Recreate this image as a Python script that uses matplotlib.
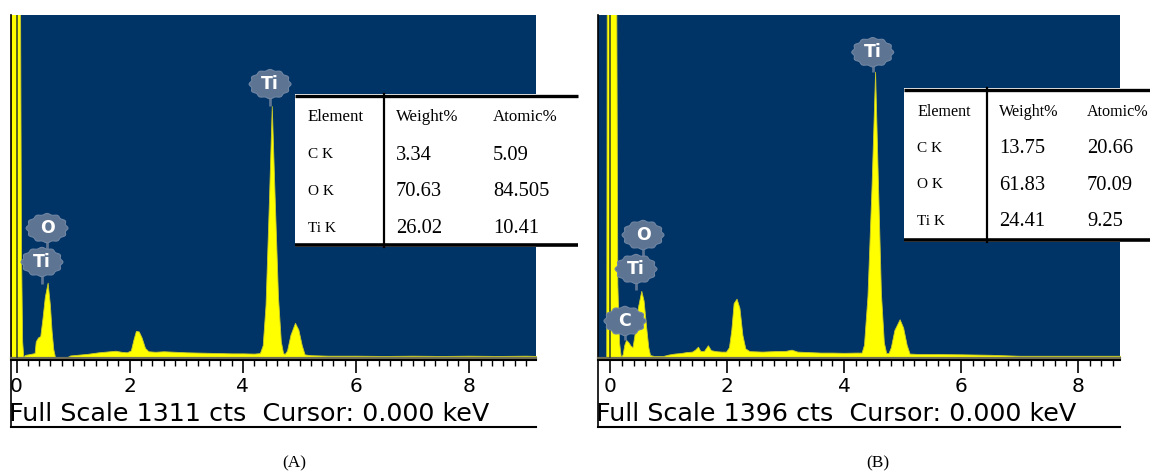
import numpy as np
import matplotlib
matplotlib.use("Agg")
import matplotlib.pyplot as plt
from matplotlib.patches import Polygon, Rectangle

# ---------------- data ----------------
energy_a = [-0.10, 0.06, 0.08, 0.10, 0.12, 0.15, 0.25, 0.32, 0.34, 0.38, 0.42, 0.46, 0.50, 0.55,
            0.59, 0.62, 0.65, 0.68, 0.90, 0.95, 1.05, 1.15, 1.25, 1.35, 1.45, 1.55, 1.65, 1.75,
            1.85, 1.95, 2.02, 2.07, 2.11, 2.16, 2.21, 2.27, 2.33, 2.45, 2.60, 2.80, 3.00, 3.20,
            3.40, 3.60, 3.80, 4.00, 4.20, 4.30, 4.35, 4.40, 4.46, 4.51, 4.56, 4.62, 4.67, 4.71,
            4.74, 4.78, 4.84, 4.92, 4.98, 5.04, 5.09, 5.20, 5.50, 6.00, 6.50, 7.00, 7.50, 8.00,
            8.50, 9.00, 9.20]
counts_a = [1500, 1500, 400, 60, 0, 8, 12, 15, 60, 75, 80, 150, 230, 285,
            200, 100, 30, 0, 0, 6, 8, 10, 12, 15, 18, 20, 22, 24,
            20, 18, 25, 70, 100, 98, 75, 35, 22, 20, 22, 20, 18, 17,
            16, 15, 14, 14, 13, 15, 45, 200, 600, 962, 620, 230, 60, 15,
            12, 25, 85, 131, 105, 45, 10, 7, 5, 5, 4, 5, 4, 5,
            4, 5, 4]

energy_b = [-0.21, -0.07, -0.06, 0.10, 0.12, 0.15, 0.18, 0.21, 0.24, 0.27, 0.31, 0.35, 0.38,
            0.42, 0.47, 0.53, 0.57, 0.61, 0.65, 0.68, 0.75, 0.90, 1.00, 1.10, 1.20, 1.30, 1.40,
            1.45, 1.50, 1.54, 1.60, 1.67, 1.72, 1.80, 1.90, 1.98, 2.03, 2.07, 2.11, 2.16, 2.21,
            2.26, 2.31, 2.38, 2.60, 2.80, 3.00, 3.10, 3.20, 3.40, 3.60, 3.80, 4.00, 4.20, 4.30,
            4.34, 4.40, 4.47, 4.53, 4.58, 4.63, 4.68, 4.72, 4.76, 4.80, 4.86, 4.95, 5.01, 5.07,
            5.12, 5.30, 5.60, 6.00, 6.50, 7.00, 7.50, 8.00, 8.72]
counts_b = [0, 0, 1600, 1600, 300, 60, 0, 10, 50, 70, 60, 45, 40,
            100, 200, 270, 230, 130, 40, 8, 4, 4, 10, 14, 16, 20, 22,
            30, 42, 25, 24, 48, 28, 24, 22, 22, 40, 110, 220, 238, 200,
            90, 35, 24, 22, 24, 25, 30, 22, 20, 18, 18, 17, 18, 18,
            50, 250, 700, 1164, 700, 260, 60, 16, 16, 40, 110, 154, 120, 50,
            14, 12, 12, 11, 9, 5, 5, 5, 5]

full_scale_a = 1311
full_scale_b = 1396
cursor_kev = 0.0

tick_values = [0, 2, 4, 6, 8]
tick_labels = ["0", "2", "4", "6", "8"]

badge_labels_a = ["Ti", "O", "Ti"]
badge_x_a = [4.48, 0.54, 0.45]
badge_y_a = [1046, 494, 364]
stem_end_a = [962, 364, 280]

badge_labels_b = ["Ti", "O", "Ti", "C"]
badge_x_b = [4.49, 0.56, 0.44, 0.25]
badge_y_b = [1244, 498, 359, 147]
stem_end_b = [1163, 359, 273, 69]

table_header = ["Element", "Weight%", "Atomic%"]
elements = ["C K", "O K", "Ti K"]
weight_a = ["3.34", "70.63", "26.02"]
atomic_a = ["5.09", "84.505", "10.41"]
weight_b = ["13.75", "61.83", "24.41"]
atomic_b = ["20.66", "70.09", "9.25"]

captions = ["(A)", "(B)"]

# ---------------- layout helpers ----------------
W, H = 1150, 473
fig = plt.figure(figsize=(W / 100, H / 100), dpi=100)
fig.patch.set_facecolor("white")


def box(x0, y0, x1, y1):
    return [x0 / W, 1 - y1 / H, (x1 - x0) / W, (y1 - y0) / H]


def fx(x):
    return x / W


def fy(y):
    return 1 - y / H


NAVY = "#003366"
YELLOW = "#ffff00"
BADGE = "#5d7492"


def cog(cx, cy, w, h, n=96):
    t = np.linspace(0, 2 * np.pi, n, endpoint=False)
    r = 1 + 0.05 * np.cos(12 * t)
    return np.column_stack([cx + w / 2 * r * np.cos(t), cy + h / 2 * r * np.sin(t)])


def panel(px0, px1, zero_px, px_per_kev, energy, counts, full_scale,
          blabels, bx, by, bstem):
    xlim = ((px0 - zero_px) / px_per_kev, (px1 - zero_px) / px_per_kev)
    top, base = 15, 357
    cpp = full_scale / (base - top)
    ylim = (-(358 - base) * cpp, full_scale)

    ax = fig.add_axes(box(px0, top, px1, 358))
    ax.set_facecolor(NAVY)
    ax.fill_between(energy, counts, ylim[0] - 10, color=YELLOW, lw=0.6,
                    edgecolor="#c9c92a", zorder=2)
    ax.axvline(cursor_kev, color="#3b4a2c", lw=1.2, zorder=3)
    ax.set_xlim(*xlim)
    ax.set_ylim(*ylim)
    ax.set_xticks([])
    ax.set_yticks([])
    for s in ["top", "right"]:
        ax.spines[s].set_visible(False)
    ax.spines["left"].set_color("black")
    ax.spines["left"].set_linewidth(1.2)
    ax.spines["bottom"].set_color("#6e6e58")
    ax.spines["bottom"].set_linewidth(1.6)

    bw = 40 / px_per_kev
    bh = 28 * cpp
    for lab, x, y, se in zip(blabels, bx, by, bstem):
        ax.plot([x, x], [y, se], color=BADGE, lw=2, zorder=4, solid_capstyle="butt")
    for lab, x, y, se in zip(blabels, bx, by, bstem):
        ax.add_patch(Polygon(cog(x, y, bw, bh), closed=True, facecolor=BADGE,
                             edgecolor="#7086a3", lw=0.8, zorder=5))
        ax.text(x, y, lab, color="white", ha="center", va="center", fontsize=12.5,
                fontweight="bold", family="DejaVu Sans", zorder=6)

    axt = fig.add_axes(box(px0, 360, px1, 427))
    axt.set_facecolor("white")
    axt.set_xlim(*xlim)
    axt.set_ylim(0, 1)
    axt.xaxis.tick_top()
    axt.set_xticks(tick_values)
    axt.set_xticks(np.arange(0, xlim[1], 0.2), minor=True)
    axt.tick_params(axis="x", which="major", direction="in", length=9.5, width=1.2,
                    labeltop=False, labelbottom=False, color="black")
    axt.tick_params(axis="x", which="minor", direction="in", length=4, width=1.0,
                    color="black")
    axt.set_yticks([])
    axt.spines["right"].set_visible(False)
    axt.spines["top"].set_linewidth(1.5)
    axt.spines["left"].set_linewidth(1.2)
    axt.spines["bottom"].set_linewidth(1.5)
    for v, lab in zip(tick_values, tick_labels):
        axt.text(v, 0.60, lab, ha="center", va="center", fontsize=14.5,
                 family="DejaVu Sans", clip_on=True)
    axt.text(-0.004, 0.19, f"Full Scale {full_scale} cts  Cursor: {cursor_kev:.3f} keV",
             transform=axt.transAxes, ha="left", va="center", fontsize=18.3,
             family="DejaVu Sans", clip_on=True)
    return ax


panel(11, 536, 16.5, 56.6, energy_a, counts_a, full_scale_a,
      badge_labels_a, badge_x_a, badge_y_a, stem_end_a)
panel(598, 1120, 610.3, 58.45, energy_b, counts_b, full_scale_b,
      badge_labels_b, badge_x_b, badge_y_b, stem_end_b)


def table(x0, x1, y0, y1, xv, colx, rowy, weights, atomics, hsize):
    axb = fig.add_axes(box(x0, y0, x1, y1))
    axb.set_axis_off()
    axb.add_patch(Rectangle((0, 0), 1, 1, transform=axb.transAxes,
                            facecolor="white", edgecolor="none"))
    hpx = y1 - y0
    axb.plot([0, 1], [1 - 1.6 / hpx] * 2, transform=axb.transAxes, color="black",
             lw=2.4, clip_on=False, solid_capstyle="butt")
    axb.plot([0, 1], [2.0 / hpx] * 2, transform=axb.transAxes, color="black",
             lw=2.6, clip_on=False, solid_capstyle="butt")
    vx = (xv - x0) / (x1 - x0)
    axb.plot([vx, vx], [0, 1], transform=axb.transAxes, color="black", lw=1.6,
             clip_on=False)
    serif = "Liberation Serif"
    for cx, txt in zip(colx, table_header):
        fig.text(fx(cx), fy(rowy[0]), txt, ha="left", va="center",
                 fontsize=hsize, family=serif)
    for i, (el, w, a) in enumerate(zip(elements, weights, atomics)):
        yy = fy(rowy[i + 1])
        fig.text(fx(colx[0]), yy, el, ha="left", va="center", fontsize=11,
                 family=serif)
        fig.text(fx(colx[1]), yy, w, ha="left", va="center", fontsize=14.8,
                 family=serif)
        fig.text(fx(colx[2]), yy, a, ha="left", va="center", fontsize=14.8,
                 family=serif)


table(295, 578, 94, 247, 383.5, [308, 396, 493], [116.7, 155, 191.5, 228.3],
      weight_a, atomic_a, 12.2)
table(904, 1150, 88, 242, 987, [917, 999, 1087], [111.7, 148.3, 185, 221.7],
      weight_b, atomic_b, 11.6)

fig.text(fx(294), fy(463), captions[0], ha="center", va="center", fontsize=12.5,
         family="Liberation Serif")
fig.text(fx(878), fy(463), captions[1], ha="center", va="center", fontsize=12.5,
         family="Liberation Serif")

fig.savefig("out.png", dpi=100, facecolor="white")
